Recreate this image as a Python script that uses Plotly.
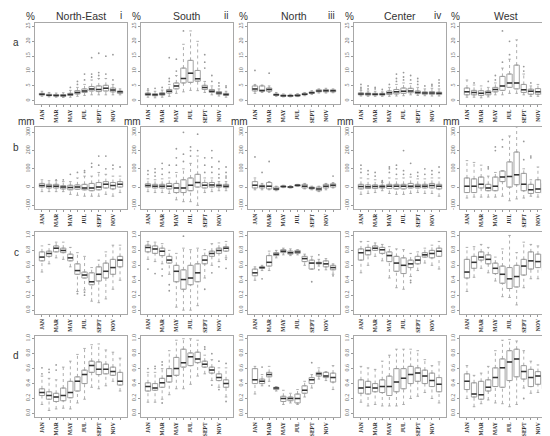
import plotly.graph_objects as go

# ── Data: per panel, per month (lo, q1, median, q3, hi); outliers as (month, value)
MONTH_POS = list(range(1, 13))
MONTH_TICKS = ['JAN', '', 'MAR', '', 'MAY', '', 'JUL', '', 'SEPT', '', 'NOV', '']
REGIONS = ['North-East', 'South', 'North', 'Center', 'West']
NUMERALS = ['i', 'ii', 'iii', 'iv', 'v']
ROW_LETTERS = ['a', 'b', 'c', 'd']
ROW_UNITS = ['%', 'mm', '', '']

# row a: %
A_NE = [(1.5, 1.9, 2.2, 2.5, 3.2), (1.3, 1.7, 1.9, 2.2, 2.8), (1.2, 1.6, 1.8, 2.1, 2.6),
        (1.1, 1.5, 1.8, 2.1, 2.7), (1.2, 1.8, 2.1, 2.5, 3.5), (1.5, 2.3, 2.8, 3.4, 4.5),
        (1.8, 2.8, 3.3, 4.0, 5.5), (2.0, 3.3, 4.0, 4.8, 7.0), (2.0, 3.1, 3.8, 5.0, 7.5),
        (2.0, 3.3, 4.2, 5.2, 7.5), (2.0, 3.0, 3.6, 4.3, 5.5), (2.0, 2.5, 3.0, 3.3, 4.0)]
A_NE_OUT = [(5, 4.5), (6, 5.5), (6, 6.5), (7, 7.0), (7, 9.0), (8, 8.0), (8, 9.0), (8, 14.5),
            (9, 8.5), (9, 9.5), (9, 16.0), (10, 9.0), (10, 15.0), (11, 7.0), (11, 15.5)]
A_S = [(1.2, 1.8, 2.2, 2.6, 3.5), (1.0, 1.7, 2.0, 2.4, 3.2), (1.2, 1.9, 2.3, 2.7, 3.6),
       (1.5, 2.6, 3.2, 3.8, 5.5), (2.5, 4.0, 5.0, 6.0, 8.5), (3.0, 6.0, 7.5, 11.0, 19.0),
       (3.5, 6.2, 9.3, 13.6, 23.5), (3.4, 6.6, 7.4, 10.2, 20.0), (2.8, 3.8, 4.5, 5.2, 6.5),
       (2.0, 2.8, 3.2, 3.8, 5.0), (1.6, 2.2, 2.6, 3.1, 4.0), (1.2, 1.8, 2.1, 2.5, 3.2)]
A_S_OUT = [(1, 4.0), (2, 4.2), (3, 4.5), (4, 6.5), (4, 7.5), (4, 14.5), (5, 10.0), (5, 14.0),
           (6, 23.5), (9, 11.0), (9, 13.0), (9, 15.5), (10, 6.5), (10, 8.5), (11, 5.0),
           (11, 6.0), (12, 4.5), (12, 5.0)]
A_N = [(2.5, 3.3, 4.0, 5.0, 5.5), (2.8, 3.2, 3.5, 5.0, 5.3), (2.8, 3.2, 3.8, 4.3, 5.0),
       (1.5, 1.8, 2.0, 2.3, 2.8), (1.3, 1.5, 1.7, 2.0, 2.3), (1.3, 1.5, 1.7, 1.9, 2.2),
       (1.4, 1.6, 1.8, 2.1, 2.4), (1.7, 2.0, 2.2, 2.5, 2.8), (2.1, 2.5, 2.7, 3.0, 3.4),
       (2.6, 3.0, 3.3, 3.7, 4.0), (2.6, 3.0, 3.4, 3.8, 4.2), (2.7, 3.0, 3.4, 3.7, 4.0)]
A_N_OUT = [(1, 10.2), (3, 9.3)]
A_C = [(1.6, 2.0, 2.3, 2.7, 3.5), (1.5, 1.9, 2.3, 2.6, 3.3), (1.5, 1.9, 2.2, 2.5, 3.2),
       (1.5, 1.9, 2.2, 2.5, 3.0), (1.5, 2.1, 2.7, 3.3, 4.5), (1.6, 2.3, 3.0, 3.8, 5.5),
       (1.7, 2.5, 3.2, 4.3, 6.0), (2.0, 2.7, 3.3, 4.2, 5.8), (1.8, 2.4, 2.8, 3.3, 4.5),
       (1.7, 2.2, 2.6, 3.0, 4.0), (1.6, 2.2, 2.6, 3.1, 4.2), (1.6, 2.1, 2.5, 2.9, 4.0)]
A_C_OUT = [(1, 4.0), (1, 4.5), (1, 5.5), (2, 4.0), (2, 5.0), (3, 4.0), (3, 4.5), (4, 3.8),
           (5, 5.5), (6, 6.5), (6, 7.5), (6, 9.0), (7, 7.0), (7, 8.0), (7, 9.5), (8, 7.0),
           (8, 8.5), (9, 5.5), (9, 6.5), (9, 7.5), (10, 5.0), (11, 5.0), (11, 5.5),
           (12, 5.0), (12, 6.0), (12, 7.0)]
A_W = [(1.2, 2.0, 3.0, 4.3, 7.0), (1.2, 2.0, 2.8, 3.5, 5.3), (1.0, 1.8, 2.5, 3.4, 5.0),
       (1.3, 2.0, 2.8, 3.3, 4.5), (2.0, 3.0, 3.8, 4.5, 6.0), (2.0, 3.5, 5.0, 8.2, 11.0),
       (2.5, 4.5, 6.0, 9.0, 14.0), (2.5, 4.0, 6.0, 12.0, 20.5), (2.0, 2.8, 3.7, 5.5, 9.0),
       (1.5, 2.2, 3.2, 3.9, 5.0), (1.5, 2.2, 3.0, 4.1, 5.5), (1.3, 2.0, 2.8, 3.3, 4.5)]
A_W_OUT = [(2, 6.0), (4, 6.5), (5, 7.0), (5, 8.5), (6, 13.0), (6, 23.5), (7, 15.5), (7, 20.0),
           (9, 10.0), (9, 11.5), (10, 6.0), (12, 5.0)]

# row b: mm
B_NE = [(-25, 0, 8, 20, 40), (-25, -5, 5, 15, 35), (-25, -5, 5, 15, 35), (-25, -10, 0, 8, 30),
        (-40, -15, -2, 10, 30), (-45, -12, 0, 12, 50), (-50, -15, -5, 15, 60),
        (-50, -20, -5, 20, 60), (-50, -15, 0, 25, 80), (-40, -5, 15, 30, 70),
        (-50, -10, 8, 25, 60), (-30, 0, 15, 30, 60)]
B_NE_OUT = [(3, 40), (4, 40), (5, 70), (6, 80), (7, 80), (7, 90), (8, 110), (8, 130), (9, 120),
            (9, 170), (10, 100), (10, 170), (11, 100), (11, 120), (12, 110)]
B_S = [(-25, 0, 8, 18, 45), (-30, -5, 5, 15, 40), (-30, -5, 5, 15, 45), (-35, -10, 5, 20, 50),
       (-70, -30, -5, 20, 80), (-80, -30, -5, 40, 100), (-80, -20, 10, 50, 130),
       (-100, 0, 25, 70, 170), (-30, -5, 10, 25, 50), (-25, 0, 12, 25, 50),
       (-20, 0, 8, 15, 30), (-20, -3, 5, 15, 30)]
B_S_OUT = [(1, 70), (1, 90), (2, 60), (2, 80), (2, 100), (3, 70), (3, 100), (3, 130), (4, 80),
           (4, 120), (5, 120), (5, 160), (5, 210), (6, 140), (6, 180), (6, 300), (7, 170),
           (7, 200), (7, 220), (8, 200), (8, 290), (9, 80), (9, 120), (9, 160), (10, 80),
           (10, 110), (10, 160), (10, 200), (11, 50), (11, 70), (11, 100), (11, 140),
           (12, 50), (12, 60), (12, 80), (12, 110)]
B_N = [(-15, -5, 10, 30, 50), (-15, -5, 5, 10, 20), (-15, -10, 5, 25, 30), (-20, -15, -10, 0, 5),
       (-3, 0, 3, 6, 10), (-5, -3, 0, 3, 8), (3, 5, 10, 12, 15), (-10, -5, 5, 15, 20),
       (-15, -10, -5, 0, 5), (-25, -20, -10, 0, 5), (-15, -5, 5, 15, 20), (-5, 0, 10, 18, 25)]
B_N_OUT = [(1, 165), (2, 80), (3, 140), (12, 60)]
B_C = [(-40, -10, 3, 15, 50), (-35, -8, 2, 12, 45), (-30, -8, 3, 12, 40), (-20, -5, 3, 10, 25),
       (-35, -8, 5, 15, 50), (-40, -10, 5, 15, 45), (-40, -10, 5, 15, 50), (-35, -5, 5, 20, 55),
       (-30, -5, 5, 15, 45), (-35, -5, 5, 15, 45), (-35, -5, 8, 20, 50), (-50, -10, 5, 15, 50)]
B_C_OUT = [(1, 80), (1, 100), (1, 120), (2, 70), (2, 90), (3, 60), (3, 80), (4, 30), (4, 35),
           (5, 80), (5, 100), (5, 110), (6, 70), (6, 100), (6, 120), (7, 70), (7, 90),
           (7, 200), (8, 70), (8, 130), (9, 60), (9, 80), (10, 70), (10, 100), (11, 70),
           (11, 90), (12, 80), (12, 110)]
B_W = [(-60, -30, 5, 50, 145), (-55, -30, 5, 45, 135), (-55, -5, 15, 55, 120),
       (-55, -20, -5, 15, 60), (-55, -20, 5, 55, 80), (-50, 30, 55, 88, 90),
       (-75, 0, 58, 138, 280), (-65, 13, 67, 192, 330), (-60, -20, 15, 75, 100),
       (-50, -35, -15, 15, 40), (-55, -30, -10, 40, 110), (-55, -35, -20, 20, 110)]
B_W_OUT = [(4, 100), (4, 110), (5, 200), (5, 220), (6, 220), (6, 260), (9, 150), (9, 250),
           (10, 160), (10, 170)]

# row c
C_NE = [(0.51, 0.66, 0.71, 0.78, 0.86), (0.62, 0.72, 0.76, 0.79, 0.88),
        (0.70, 0.78, 0.83, 0.86, 0.91), (0.68, 0.77, 0.80, 0.83, 0.91),
        (0.58, 0.66, 0.70, 0.75, 0.84), (0.25, 0.48, 0.53, 0.62, 0.77),
        (0.27, 0.43, 0.47, 0.51, 0.72), (0.12, 0.34, 0.38, 0.50, 0.57),
        (0.10, 0.39, 0.48, 0.58, 0.67), (0.15, 0.43, 0.52, 0.63, 0.78),
        (0.28, 0.48, 0.57, 0.68, 0.87), (0.40, 0.58, 0.67, 0.72, 0.87)]
C_NE_OUT = [(6, 0.22), (7, 0.20), (7, 0.24)]
C_S = [(0.68, 0.78, 0.84, 0.87, 0.92), (0.65, 0.76, 0.82, 0.86, 0.91),
       (0.62, 0.73, 0.79, 0.83, 0.89), (0.48, 0.63, 0.67, 0.72, 0.80),
       (0.04, 0.38, 0.52, 0.60, 0.76), (0.00, 0.28, 0.41, 0.54, 0.83),
       (0.00, 0.34, 0.43, 0.60, 0.81), (0.06, 0.38, 0.50, 0.62, 0.83),
       (0.43, 0.62, 0.67, 0.73, 0.81), (0.60, 0.72, 0.76, 0.79, 0.89),
       (0.65, 0.76, 0.80, 0.83, 0.90), (0.70, 0.79, 0.83, 0.85, 0.92)]
C_S_OUT = [(1, 0.55), (2, 0.49), (3, 0.46), (3, 0.55), (4, 0.26), (4, 0.34), (6, 0.99),
           (9, 0.28), (10, 0.50), (11, 0.58), (12, 0.56), (12, 0.68)]
C_N = [(0.40, 0.46, 0.50, 0.55, 0.58), (0.53, 0.56, 0.57, 0.58, 0.60),
       (0.53, 0.59, 0.64, 0.73, 0.79), (0.70, 0.73, 0.75, 0.77, 0.80),
       (0.74, 0.77, 0.79, 0.81, 0.83), (0.73, 0.75, 0.77, 0.79, 0.82),
       (0.74, 0.76, 0.78, 0.80, 0.81), (0.60, 0.65, 0.69, 0.72, 0.75),
       (0.55, 0.55, 0.63, 0.67, 0.72), (0.59, 0.62, 0.63, 0.64, 0.68),
       (0.54, 0.58, 0.62, 0.66, 0.69), (0.48, 0.54, 0.57, 0.60, 0.62)]
C_N_OUT = [(2, 0.42), (9, 0.38), (10, 0.54), (10, 0.74), (12, 0.46)]
C_C = [(0.50, 0.67, 0.77, 0.82, 0.92), (0.60, 0.74, 0.80, 0.84, 0.92),
       (0.72, 0.80, 0.83, 0.86, 0.90), (0.66, 0.76, 0.81, 0.84, 0.88),
       (0.43, 0.65, 0.73, 0.78, 0.85), (0.30, 0.52, 0.63, 0.72, 0.82),
       (0.28, 0.49, 0.60, 0.70, 0.81), (0.45, 0.57, 0.62, 0.67, 0.76),
       (0.53, 0.62, 0.67, 0.72, 0.78), (0.63, 0.71, 0.74, 0.77, 0.83),
       (0.60, 0.70, 0.76, 0.80, 0.87), (0.55, 0.72, 0.79, 0.83, 0.92)]
C_C_OUT = [(8, 0.40), (8, 0.37)]
C_W = [(0.25, 0.43, 0.51, 0.68, 0.84), (0.44, 0.56, 0.64, 0.72, 0.85),
       (0.56, 0.67, 0.71, 0.78, 0.88), (0.50, 0.62, 0.68, 0.74, 0.84),
       (0.39, 0.49, 0.56, 0.63, 0.71), (0.18, 0.36, 0.48, 0.59, 0.82),
       (0.17, 0.29, 0.42, 0.57, 1.00), (0.07, 0.31, 0.45, 0.60, 0.77),
       (0.30, 0.47, 0.59, 0.68, 0.91), (0.42, 0.55, 0.66, 0.78, 0.88),
       (0.42, 0.57, 0.65, 0.75, 0.86), (0.32, 0.53, 0.61, 0.75, 0.85)]
C_W_OUT = []

# row d
D_NE = [(0.12, 0.24, 0.28, 0.33, 0.50), (0.04, 0.19, 0.24, 0.29, 0.47),
        (0.06, 0.16, 0.22, 0.27, 0.45), (0.07, 0.17, 0.24, 0.34, 0.62),
        (0.06, 0.21, 0.28, 0.43, 0.70), (0.14, 0.30, 0.43, 0.49, 0.79),
        (0.19, 0.40, 0.52, 0.58, 0.87), (0.35, 0.55, 0.64, 0.70, 0.92),
        (0.33, 0.52, 0.59, 0.69, 0.93), (0.37, 0.53, 0.59, 0.66, 0.85),
        (0.43, 0.51, 0.56, 0.62, 0.82), (0.30, 0.38, 0.43, 0.55, 0.74)]
D_NE_OUT = [(1, 0.53), (1, 0.61), (2, 0.55), (2, 0.59), (3, 0.58), (3, 0.65)]
D_S = [(0.15, 0.30, 0.36, 0.41, 0.55), (0.15, 0.31, 0.34, 0.40, 0.55),
       (0.19, 0.35, 0.41, 0.47, 0.60), (0.25, 0.42, 0.50, 0.60, 0.84),
       (0.33, 0.51, 0.60, 0.75, 0.98), (0.33, 0.62, 0.68, 0.86, 1.00),
       (0.39, 0.64, 0.76, 0.81, 1.00), (0.50, 0.68, 0.73, 0.82, 0.98),
       (0.53, 0.62, 0.66, 0.70, 0.78), (0.44, 0.54, 0.58, 0.62, 0.72),
       (0.35, 0.44, 0.48, 0.53, 0.61), (0.22, 0.35, 0.40, 0.45, 0.61)]
D_S_OUT = [(1, 0.60), (2, 0.60), (2, 0.63), (3, 0.14), (3, 0.65), (3, 0.69), (9, 0.86),
           (9, 0.89), (10, 0.38), (10, 0.80), (11, 0.32), (11, 0.70), (12, 0.16), (12, 0.67)]
D_N = [(0.26, 0.40, 0.45, 0.60, 0.63), (0.37, 0.40, 0.43, 0.46, 0.52),
       (0.43, 0.49, 0.52, 0.55, 0.63), (0.30, 0.32, 0.34, 0.35, 0.36),
       (0.12, 0.16, 0.20, 0.23, 0.31), (0.14, 0.17, 0.20, 0.22, 0.27),
       (0.12, 0.14, 0.20, 0.26, 0.32), (0.22, 0.27, 0.31, 0.37, 0.43),
       (0.34, 0.40, 0.45, 0.48, 0.52), (0.46, 0.50, 0.53, 0.55, 0.61),
       (0.44, 0.48, 0.50, 0.55, 0.56), (0.32, 0.42, 0.48, 0.54, 0.64)]
D_N_OUT = [(2, 0.62), (3, 0.37), (9, 0.68)]
D_C = [(0.15, 0.27, 0.34, 0.45, 0.63), (0.10, 0.26, 0.35, 0.43, 0.61),
       (0.12, 0.29, 0.34, 0.40, 0.59), (0.10, 0.28, 0.36, 0.45, 0.70),
       (0.10, 0.24, 0.36, 0.50, 0.78), (0.10, 0.29, 0.42, 0.60, 0.86),
       (0.12, 0.33, 0.47, 0.60, 0.86), (0.20, 0.40, 0.52, 0.63, 0.86),
       (0.23, 0.43, 0.54, 0.61, 0.84), (0.28, 0.40, 0.50, 0.58, 0.72),
       (0.20, 0.36, 0.44, 0.54, 0.64), (0.14, 0.29, 0.39, 0.48, 0.69)]
D_C_OUT = []
D_W = [(0.20, 0.32, 0.43, 0.53, 0.64), (0.09, 0.22, 0.26, 0.41, 0.51),
       (0.13, 0.19, 0.25, 0.43, 0.54), (0.18, 0.30, 0.35, 0.45, 0.63),
       (0.14, 0.36, 0.48, 0.61, 0.84), (0.13, 0.35, 0.61, 0.73, 0.98),
       (0.09, 0.44, 0.69, 0.84, 0.99), (0.12, 0.49, 0.73, 0.86, 0.97),
       (0.34, 0.46, 0.56, 0.64, 0.84), (0.27, 0.36, 0.48, 0.59, 0.70),
       (0.28, 0.39, 0.50, 0.56, 0.65), (0.20, 0.33, 0.39, 0.49, 0.66)]
D_W_OUT = [(9, 0.20)]

PANELS = [
    [(A_NE, A_NE_OUT), (A_S, A_S_OUT), (A_N, A_N_OUT), (A_C, A_C_OUT), (A_W, A_W_OUT)],
    [(B_NE, B_NE_OUT), (B_S, B_S_OUT), (B_N, B_N_OUT), (B_C, B_C_OUT), (B_W, B_W_OUT)],
    [(C_NE, C_NE_OUT), (C_S, C_S_OUT), (C_N, C_N_OUT), (C_C, C_C_OUT), (C_W, C_W_OUT)],
    [(D_NE, D_NE_OUT), (D_S, D_S_OUT), (D_N, D_N_OUT), (D_C, D_C_OUT), (D_W, D_W_OUT)],
]
Y_TICKS = [[0, 5, 10, 15, 20, 25], [-100, 0, 100, 200, 300],
           [0, 0.2, 0.4, 0.6, 0.8, 1.0], [0, 0.2, 0.4, 0.6, 0.8, 1.0]]
Y_TICKTEXT = [[str(v) for v in Y_TICKS[0]], [str(v) for v in Y_TICKS[1]],
              ['0.0', '0.2', '0.4', '0.6', '0.8', '1.0'], ['0.0', '0.2', '0.4', '0.6', '0.8', '1.0']]
Y_RANGES = [[-1.2, 26.2], [-118, 328], [-0.05, 1.04], [-0.05, 1.04]]

# ── Layout geometry (pixels) ──────────────────────────────────────────────
W, H = 550, 436
COL_LEFT = [27, 133, 240, 346, 452]
PANEL_W = 92
ROW_TOP = [13, 118, 224, 328]
PANEL_H = 82
BOX_W = 0.75
CAP_W = 0.36
GREY = '#9a9a9a'
FRAME = '#a8a8a8'
SERIF = 'Liberation Serif'
SANS = 'Liberation Sans'

fig = go.Figure()
layout = {}

n = 0
for r in range(4):
    for c in range(5):
        n += 1
        xa = 'x' if n == 1 else f'x{n}'
        ya = 'y' if n == 1 else f'y{n}'
        stats, outl = PANELS[r][c]
        lo = [s[0] for s in stats]
        q1 = [s[1] for s in stats]
        med = [s[2] for s in stats]
        q3 = [s[3] for s in stats]
        hi = [s[4] for s in stats]

        # whiskers (dotted) and staples
        wx, wy, cx, cy, mx, my = [], [], [], [], [], []
        for i, m in enumerate(MONTH_POS):
            wx += [m, m, None, m, m, None]
            wy += [lo[i], q1[i], None, q3[i], hi[i], None]
            cx += [m - CAP_W / 2, m + CAP_W / 2, None, m - CAP_W / 2, m + CAP_W / 2, None]
            cy += [lo[i], lo[i], None, hi[i], hi[i], None]
            mx += [m - BOX_W / 2, m + BOX_W / 2, None]
            my += [med[i], med[i], None]
        fig.add_trace(go.Scatter(x=wx, y=wy, mode='lines', xaxis=xa, yaxis=ya,
                                 line=dict(color=GREY, width=0.8, dash='dot'),
                                 showlegend=False, hoverinfo='skip'))
        fig.add_trace(go.Scatter(x=cx, y=cy, mode='lines', xaxis=xa, yaxis=ya,
                                 line=dict(color=GREY, width=0.8),
                                 showlegend=False, hoverinfo='skip'))
        fig.add_trace(go.Box(x=MONTH_POS, q1=q1, median=med, q3=q3,
                             lowerfence=q1, upperfence=q3, width=BOX_W,
                             xaxis=xa, yaxis=ya, fillcolor='white',
                             line=dict(color=GREY, width=0.9),
                             showlegend=False, boxpoints=False))
        fig.add_trace(go.Scatter(x=mx, y=my, mode='lines', xaxis=xa, yaxis=ya,
                                 line=dict(color='#333333', width=1.5),
                                 showlegend=False, hoverinfo='skip'))
        if outl:
            fig.add_trace(go.Scatter(x=[o[0] for o in outl], y=[o[1] for o in outl],
                                     mode='markers', xaxis=xa, yaxis=ya,
                                     marker=dict(symbol='circle', size=1.8,
                                                 color='#999999'),
                                     showlegend=False, hoverinfo='skip'))

        x0 = COL_LEFT[c] / W
        x1 = (COL_LEFT[c] + PANEL_W) / W
        y1 = 1 - ROW_TOP[r] / H
        y0 = 1 - (ROW_TOP[r] + PANEL_H) / H
        xkey = 'xaxis' if n == 1 else f'xaxis{n}'
        ykey = 'yaxis' if n == 1 else f'yaxis{n}'
        layout[xkey] = dict(domain=[x0, x1], anchor=ya, range=[0.02, 12.98],
                            tickvals=MONTH_POS, ticktext=MONTH_TICKS, tickangle=-90,
                            ticks='outside', ticklen=2, tickcolor=GREY,
                            tickfont=dict(family=SERIF, size=5.5, color='#333333',
                                          weight='bold'),
                            showline=True, mirror=True, linecolor=FRAME, linewidth=1,
                            showgrid=False, zeroline=False, fixedrange=True)
        layout[ykey] = dict(domain=[y0, y1], anchor=xa, range=Y_RANGES[r],
                            tickvals=Y_TICKS[r], ticktext=Y_TICKTEXT[r], tickangle=-90,
                            ticks='outside', ticklen=2, tickcolor=GREY,
                            tickfont=dict(family=SERIF, size=6, color='#666666'),
                            showline=True, mirror=True, linecolor=FRAME, linewidth=1,
                            showgrid=False, zeroline=False, fixedrange=True)

# ── Text: titles, numerals, units, row letters ────────────────────────────
ann = []
for c in range(5):
    ann.append(dict(x=(COL_LEFT[c] + PANEL_W / 2) / W, y=1 - 6 / H, text=REGIONS[c],
                    xref='paper', yref='paper', showarrow=False,
                    xanchor='center', yanchor='middle',
                    font=dict(family=SANS, size=10.5, color='#333333')))
    ann.append(dict(x=(COL_LEFT[c] + PANEL_W - 3) / W, y=1 - 6 / H, text=NUMERALS[c],
                    xref='paper', yref='paper', showarrow=False,
                    xanchor='right', yanchor='middle',
                    font=dict(family=SANS, size=10, color='#333333')))
    for r in range(4):
        if ROW_UNITS[r]:
            ann.append(dict(x=(COL_LEFT[c] + 2) / W, y=1 - (ROW_TOP[r] - 6) / H,
                            text=ROW_UNITS[r], xref='paper', yref='paper',
                            showarrow=False, xanchor='right', yanchor='middle',
                            font=dict(family=SANS, size=10, color='#333333')))
for r in range(4):
    ann.append(dict(x=8 / W, y=1 - (ROW_TOP[r] + 20) / H, text=ROW_LETTERS[r],
                    xref='paper', yref='paper', showarrow=False,
                    xanchor='center', yanchor='middle',
                    font=dict(family=SANS, size=10, color='#333333')))

fig.update_layout(
    **layout,
    annotations=ann,
    width=W, height=H,
    margin=dict(l=0, r=0, t=0, b=0),
    plot_bgcolor='rgba(0,0,0,0)', paper_bgcolor='white',
    showlegend=False,
    boxgap=0,
)
fig.write_html('out.html')
